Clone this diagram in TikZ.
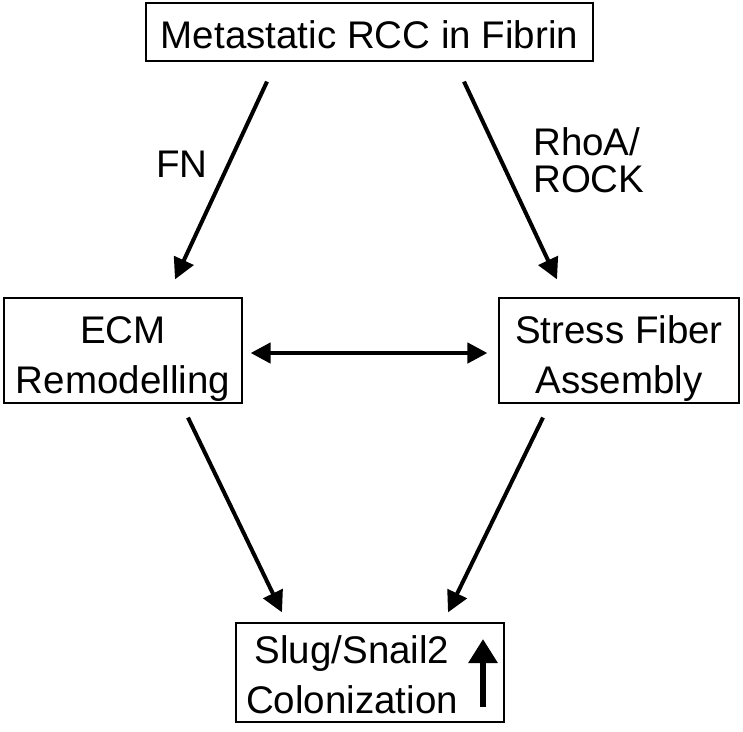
\documentclass[tikz,border=0pt]{standalone}
\usepackage{fontspec}
\setmainfont{Liberation Sans}
\usetikzlibrary{arrows.meta}

% lowers the first line of a box text
\newcommand{\lowr}[1]{\rule{0pt}{#1}}

\begin{document}
\begin{tikzpicture}[x=1pt,y=-1pt,
   box/.style={draw,line width=1.2pt,inner sep=0pt,align=center,
     font=\fontsize{38.5}{50}\selectfont},
   arr/.style={line width=4pt,-{Triangle[length=21pt,width=21pt]}},
   lbl/.style={inner sep=0pt,align=left,font=\fontsize{38.5}{37}\selectfont}]
   \useasboundingbox (0,0) rectangle (743,731);
   % boxes
   \node[box,minimum width=447pt,minimum height=58pt] (top) at (369.5,32) {\lowr{34pt}Metastatic RCC in Fibrin};
   \node[box,minimum width=238pt,minimum height=105pt] (ecm) at (123,350.5) {\lowr{44pt}ECM\\Remodelling};
   \node[box,minimum width=240pt,minimum height=105pt] (fiber) at (619,350.5) {\lowr{44pt}Stress Fiber\\Assembly};
   \node[box,minimum width=268pt,minimum height=99pt] (slug) at (370,672.5) {};
   \node[box,draw=none] (slugtxt) at (352,675) {Slug/Snail2\\Colonization};
   % arrows
   \draw[arr] ([shift={(-102.5,20)}]top.south) -- ([shift={(52,-18)}]ecm.north);
   \draw[arr] ([shift={(94.5,20)}]top.south) -- ([shift={(-62,-18)}]fiber.north);
   \draw[arr,line width=4.5pt,{Triangle[length=20pt,width=20pt]}-{Triangle[length=20pt,width=20pt]}]
     ([shift={(8,2.5)}]ecm.east) -- ([shift={(-11,2.5)}]fiber.west);
   \draw[arr] ([shift={(65,14)}]ecm.south) -- ([shift={(-88,-10)}]slug.north);
   \draw[arr] ([shift={(-76,14)}]fiber.south) -- ([shift={(78,-10)}]slug.north);
   \draw[line width=6pt,-{Triangle[length=24pt,width=28pt]}]
     ([shift={(113,34.5)}]slug.center) -- ([shift={(113,-33.5)}]slug.center);
   % labels
   \node[lbl] (fn) at (182,164) {FN};
   \node[lbl,anchor=north west] (rho) at (533,127) {RhoA/\\ROCK};
\end{tikzpicture}
\end{document}
